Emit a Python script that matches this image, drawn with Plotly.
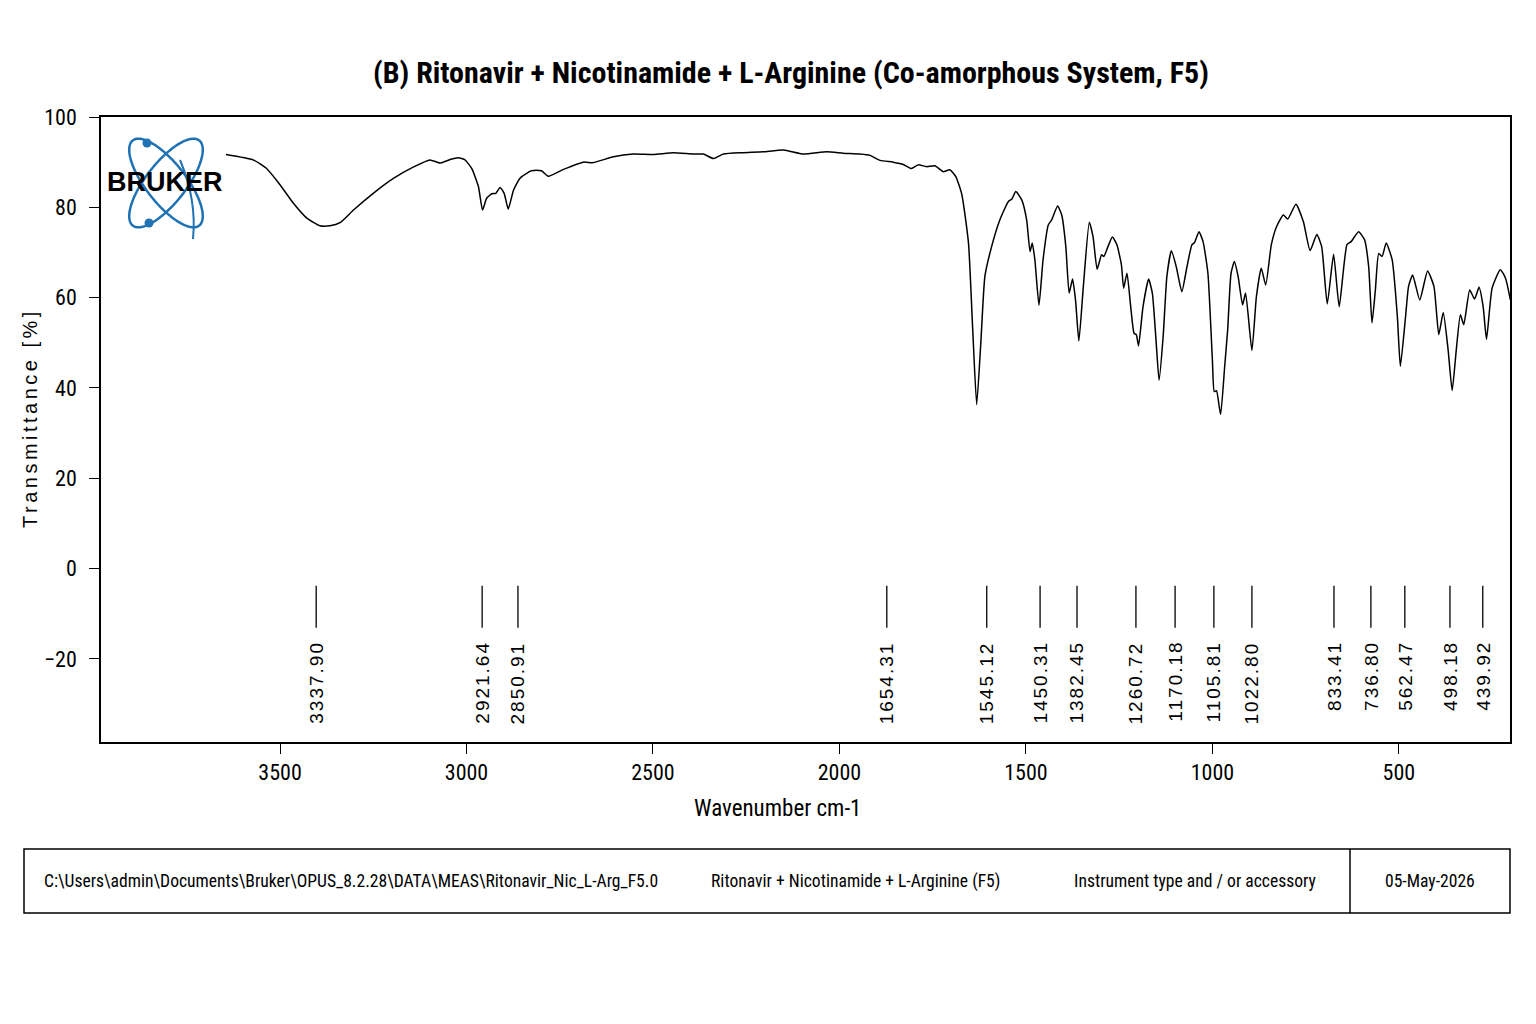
import numpy as np
import plotly.graph_objects as go

# spectrum (wavenumber cm-1, transmittance %)
wavenumber = [3645, 3572, 3536, 3500, 3464, 3428, 3393, 3366, 3339, 3303, 3250, 3196, 3143, 3098,
              3071, 3044, 3022, 3004, 2986, 2968, 2957, 2946, 2932, 2921, 2910, 2899, 2888, 2874,
              2857, 2826, 2799, 2781, 2740, 2687, 2660, 2606, 2553, 2499, 2445, 2392, 2365, 2338,
              2311, 2258, 2204, 2150, 2097, 2034, 1990, 1945, 1918, 1891, 1856, 1829, 1807, 1789,
              1766, 1744, 1722, 1704, 1688, 1672, 1654, 1643, 1632, 1621, 1610, 1592, 1570, 1547,
              1538, 1527, 1511, 1498, 1489, 1483, 1476, 1465, 1454, 1440, 1431, 1415, 1404, 1393,
              1384, 1375, 1367, 1358, 1346, 1330, 1320, 1309, 1297, 1291, 1280, 1268, 1256, 1244,
              1238, 1229, 1219, 1210, 1204, 1198, 1186, 1171, 1161, 1150, 1143, 1132, 1122, 1110,
              1097, 1082, 1068, 1055, 1048, 1036, 1025, 1012, 1000, 995, 989, 978, 967, 959, 950,
              941, 931, 919, 911, 894, 882, 869, 857, 842, 828, 810, 798, 776, 756, 738, 720, 707,
              692, 675, 660, 639, 628, 608, 592, 581, 572, 563, 554, 545, 534, 518, 504, 496, 482,
              474, 463, 444, 423, 406, 393, 381, 368, 357, 346, 335, 326, 310, 297, 285, 274, 265,
              250, 228, 214, 201]
transmittance = [91.7, 90.5, 88.6, 85.0, 80.9, 77.6, 75.9, 75.9, 76.6, 79.4, 83.1, 86.4, 88.9, 90.5,
                 89.8, 90.6, 91.0, 90.5, 88.6, 84.6, 79.4, 82.0, 83.0, 83.1, 84.4, 83.1, 79.6, 83.8,
                 86.4, 88.1, 88.1, 86.9, 88.4, 90.0, 89.9, 91.2, 91.8, 91.7, 92.1, 91.8, 91.8, 90.8,
                 91.8, 92.1, 92.3, 92.7, 91.8, 92.3, 92.0, 91.8, 91.5, 90.4, 90.0, 89.5, 88.6, 89.4,
                 89.0, 89.2, 87.9, 88.3, 86.8, 82.9, 72.1, 53.6, 36.3, 49.9, 64.7, 71.3, 77.2, 81.3,
                 81.8, 83.5, 81.6, 77.2, 70.2, 72.1, 68.4, 58.3, 68.4, 76.1, 77.2, 80.3, 78.3, 71.3,
                 61.0, 64.1, 59.5, 50.4, 62.5, 76.7, 73.5, 66.3, 69.5, 69.1, 71.3, 73.4, 71.7, 67.3,
                 62.1, 65.4, 58.0, 52.1, 51.8, 49.3, 58.0, 64.1, 61.0, 49.2, 41.7, 51.4, 64.7, 70.4,
                 66.9, 61.3, 66.9, 71.7, 72.2, 74.6, 72.4, 65.4, 46.2, 39.2, 39.4, 34.1, 44.8, 52.9, 65.4,
                 68.0, 64.7, 58.4, 61.0, 48.3, 60.2, 66.5, 62.8, 71.7, 75.7, 78.3, 77.4, 80.7, 76.8, 70.4, 74.0, 71.3,
                 58.6, 69.6, 58.0, 71.8, 72.4, 74.6, 72.8, 66.9, 54.4, 61.7, 69.8, 69.1, 72.1, 68.4, 55.8, 44.8, 55.8,
                 62.5, 65.0, 59.5, 65.9, 62.5, 51.8, 56.7, 48.5, 39.4, 48.5, 56.2, 54.0, 61.7, 59.7, 62.3, 58.0, 50.8,
                 62.1, 66.2, 64.3, 59.5]

# peak markers (where the marker lines sit) and their printed labels
peak_pos = [3403, 2958, 2862, 1873, 1605, 1462, 1363, 1205, 1100, 996, 894, 674, 575, 484, 363, 275]
peak_labels = ["3337.90", "2921.64", "2850.91", "1654.31", "1545.12", "1450.31", "1382.45",
               "1260.72", "1170.18", "1105.81", "1022.80", "833.41", "736.80", "562.47",
               "498.18", "439.92"]

title_text = "(B) Ritonavir + Nicotinamide + L-Arginine (Co-amorphous System, F5)"
x_title = "Wavenumber cm-1"
y_title = "Transmittance [%]"
footer_path = "C:\\Users\\admin\\Documents\\Bruker\\OPUS_8.2.28\\DATA\\MEAS\\Ritonavir_Nic_L-Arg_F5.0"
footer_sample = "Ritonavir + Nicotinamide + L-Arginine (F5)"
footer_instr = "Instrument type and / or accessory"
footer_date = "05-May-2026"

NARROW = "Liberation Sans Narrow, Arial Narrow, Roboto Condensed, DejaVu Sans Condensed, sans-serif"
REG = "Liberation Sans, Arial, sans-serif"

OFF = 8  # page body margin
W, H = 1536 - 2 * OFF, 1024 - 2 * OFF
L, R, T, B = 101, 1510, 117, 742  # plot frame in screenshot pixels


def px(x):
    return (x - L) / (R - L)


def py(y):
    return (B - y) / (B - T)


fig = go.Figure()
fig.add_trace(go.Scatter(x=wavenumber, y=transmittance, mode="lines",
                         line=dict(color="black", width=1.5, shape="spline", smoothing=0.5),
                         showlegend=False, hoverinfo="x+y"))

lx, ly = [], []
for p in peak_pos:
    lx += [p, p, None]
    ly += [-3.8, -13.1, None]
fig.add_trace(go.Scatter(x=lx, y=ly, mode="lines", line=dict(color="black", width=1.3),
                         showlegend=False, hoverinfo="skip"))

for p, lab in zip(peak_pos, peak_labels):
    fig.add_annotation(x=p, y=-15.6, text=f'<span style="letter-spacing:2px">{lab}</span>',
                       textangle=-90, showarrow=False, xanchor="center", yanchor="top",
                       font=dict(family=REG, size=19, color="black"))

# Bruker logo
blue = "#1f72b4"
for ang in (52, -52):
    t = np.linspace(0, 2 * np.pi, 80)
    a, b = 54, 20
    th = np.radians(ang)
    ex = 166 + a * np.cos(t) * np.cos(th) - b * np.sin(t) * np.sin(th)
    ey = 183 + a * np.cos(t) * np.sin(th) + b * np.sin(t) * np.cos(th)
    path = "M " + " L ".join(f"{px(u):.5f},{py(v):.5f}" for u, v in zip(ex, ey)) + " Z"
    fig.add_shape(type="path", path=path, xref="paper", yref="paper",
                  line=dict(color=blue, width=2.5))
fig.add_shape(type="path", xref="paper", yref="paper",
              path=f"M {px(180):.5f},{py(160):.5f} Q {px(197):.5f},{py(200):.5f} {px(193):.5f},{py(239):.5f}",
              line=dict(color=blue, width=2))
for cx, cy in ((147, 143), (149, 223)):
    fig.add_shape(type="circle", xref="paper", yref="paper",
                  x0=px(cx - 4.5), x1=px(cx + 4.5), y0=py(cy + 4.5), y1=py(cy - 4.5),
                  fillcolor=blue, line=dict(color=blue, width=0))
fig.add_annotation(x=px(165), y=py(182), xref="paper", yref="paper", text="<b>BRUKER</b>",
                   showarrow=False, xanchor="center", yanchor="middle",
                   font=dict(family=REG, size=27, color="black"))

# axis titles
fig.add_annotation(x=px(777), y=py(808), xref="paper", yref="paper", text=x_title, showarrow=False,
                   xanchor="center", yanchor="middle", font=dict(family=NARROW, size=23, color="black"))
fig.add_annotation(x=px(30), y=py(418), xref="paper", yref="paper",
                   text=f'<span style="letter-spacing:3.5px">{y_title}</span>', textangle=-90,
                   showarrow=False, xanchor="center", yanchor="middle",
                   font=dict(family=REG, size=20, color="black"))

# footer box
fig.add_shape(type="rect", xref="paper", yref="paper", x0=px(24), x1=px(1510), y0=py(913), y1=py(849),
              line=dict(color="black", width=1.5))
fig.add_shape(type="line", xref="paper", yref="paper", x0=px(1350), x1=px(1350), y0=py(913), y1=py(849),
              line=dict(color="black", width=1.5))
fy = py(881)
for txt, xc, anc in ((footer_path, 42, "left"), (footer_sample, 855, "center"),
                     (footer_instr, 1195, "center"), (footer_date, 1430, "center")):
    fig.add_annotation(x=px(xc), y=fy, xref="paper", yref="paper", text=txt, showarrow=False,
                       xanchor=anc, yanchor="middle", font=dict(family=NARROW, size=17.6, color="black"))

fig.update_layout(
    width=W, height=H,
    margin=dict(l=L - OFF, r=W - (R - OFF), t=T - OFF, b=H - (B - OFF)),
    paper_bgcolor="white", plot_bgcolor="white",
    title=dict(text="<b>" + title_text + "</b>", x=(791 - OFF) / W, xref="container", xanchor="center",
               y=1 - (72 - OFF) / H, yanchor="middle", font=dict(family=NARROW, size=30, color="black")),
    xaxis=dict(range=[3980, 202], tickvals=[3500, 3000, 2500, 2000, 1500, 1000, 500],
               ticks="outside", ticklen=10, tickcolor="black", tickwidth=1.3,
               showline=True, linecolor="black", linewidth=1.5, mirror=True, showgrid=False,
               zeroline=False, tickfont=dict(family=NARROW, size=22, color="black")),
    yaxis=dict(range=[-38.4, 100], tickvals=[-20, 0, 20, 40, 60, 80, 100],
               ticks="outside", ticklen=10, tickcolor="black", tickwidth=1.3,
               showline=True, linecolor="black", linewidth=1.5, mirror=True, showgrid=False,
               zeroline=False, tickfont=dict(family=NARROW, size=22, color="black"),
               ticklabelstandoff=8),
)

fig.write_html("out.html")
